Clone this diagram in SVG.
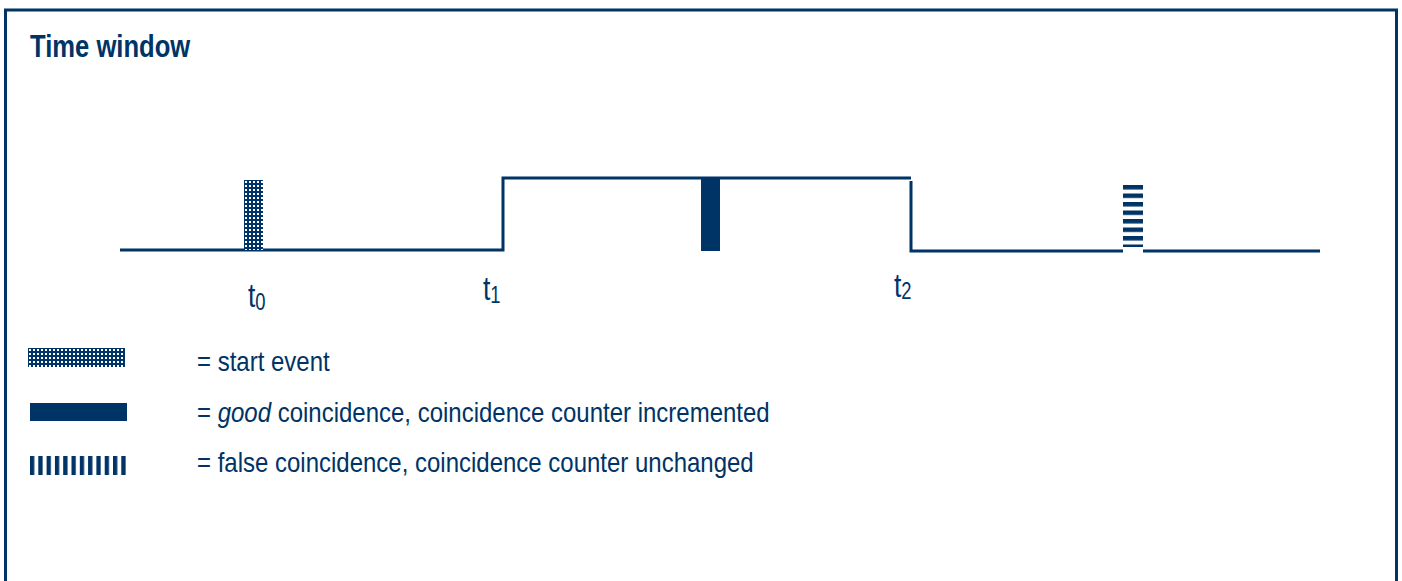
<svg xmlns="http://www.w3.org/2000/svg" width="1402" height="581" viewBox="0 0 1402 581">
<style>
.ln{fill:none;stroke:#003366;stroke-width:3}
.t{font-family:"Liberation Sans",Arial,sans-serif;fill:#003366}
.lbl{font-size:28px}
.tl{font-size:33px}
.sub{font-size:23px}
.fill{fill:#003366}
</style>
<defs>
<pattern id="chk" width="4" height="4" patternUnits="userSpaceOnUse">
<rect width="4" height="4" fill="#003366"/>
<rect x="1" y="1" width="2" height="2" fill="#ffffff"/>
</pattern>
<pattern id="hstr" x="0" y="185" width="20" height="8.5" patternUnits="userSpaceOnUse">
<rect width="20" height="4.5" fill="#003366"/>
</pattern>
<pattern id="vstr" x="30" y="0" width="8.3" height="20" patternUnits="userSpaceOnUse">
<rect width="4.3" height="20" fill="#003366"/>
</pattern>
</defs>
<rect x="0" y="0" width="1402" height="581" fill="#ffffff"/>
<path class="ln" d="M5.5,590 V10 H1396.5 V590"/>
<text class="t" transform="translate(30,57) scale(0.8,1)" font-size="32" font-weight="bold">Time window</text>
<g id="connectors">
<path class="ln" d="M120,250 H503 V178 H911"/>
<path class="ln" d="M911,181 V251 H1320"/>
</g>
<g id="start-event">
<rect x="244" y="180" width="19" height="70" fill="url(#chk)"/>
</g>
<g id="good-event">
<rect class="fill" x="701" y="178" width="19" height="73"/>
</g>
<g id="false-event">
<rect x="1123" y="183" width="20" height="70" fill="#ffffff"/>
<rect x="1123" y="185" width="20" height="62" fill="url(#hstr)"/>
</g>
<g id="t0"><text class="t tl" transform="translate(248,307) scale(0.8,1)">t<tspan class="sub" dy="3">0</tspan></text></g>
<g id="t1"><text class="t tl" transform="translate(483,300) scale(0.8,1)">t<tspan class="sub" dy="3">1</tspan></text></g>
<g id="t2"><text class="t tl" transform="translate(894,297) scale(0.8,1)">t<tspan class="sub" dy="2">2</tspan></text></g>
<g id="legend">
<rect x="28" y="348" width="97" height="19" fill="url(#chk)"/>
<rect class="fill" x="30" y="403" width="97" height="18"/>
<rect x="30" y="456" width="98" height="19" fill="url(#vstr)"/>
<g transform="translate(197,0) scale(0.857,1)">
<text class="t lbl" x="0" y="371">= start event</text>
<text class="t lbl" x="0" y="422">= <tspan font-style="italic">good</tspan> coincidence, coincidence counter incremented</text>
<text class="t lbl" x="0" y="472">= false coincidence, coincidence counter unchanged</text>
</g>
</g>
</svg>
